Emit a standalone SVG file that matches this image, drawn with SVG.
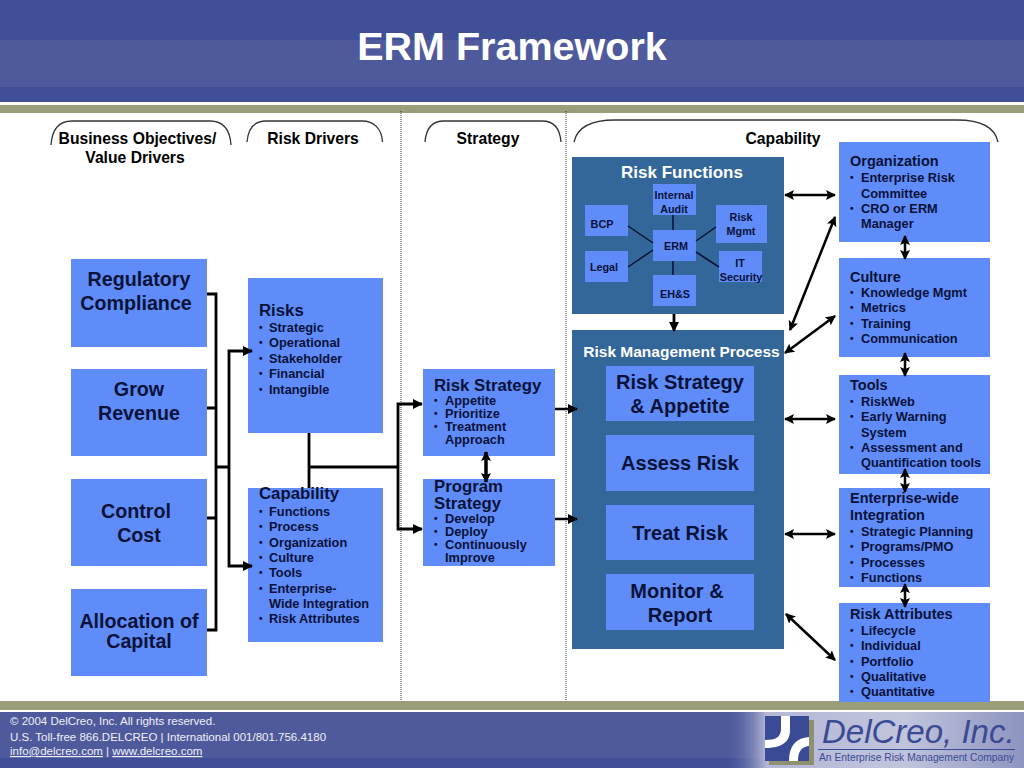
<svg xmlns="http://www.w3.org/2000/svg" width="1024" height="768" viewBox="0 0 1024 768">
<style>
text{font-family:"Liberation Sans",Arial,sans-serif;font-weight:bold;fill:#0a1238}
.box{fill:#5f8cf8}
.dark{fill:#336699}
.hd{font-size:15.700px;fill:#000;text-anchor:middle}
.big{font-size:19.700px;text-anchor:middle}
.mid{font-size:20px;text-anchor:middle}
.ttl{font-size:16.800px}
.rt{font-size:14.500px}
.li{font-size:12.800px}
.b{font-size:10px;transform:translateY(-1px)}
.sm{font-size:10.800px;text-anchor:middle}
.w{fill:#fff;font-size:17px;text-anchor:middle}
.ln{fill:none;stroke:#000;stroke-width:2.800}
.thin{fill:none;stroke:#0a1030;stroke-width:1.500}
.dbl{fill:none;stroke:#000;stroke-width:2.500;marker-start:url(#a);marker-end:url(#a)}
.arr{fill:none;stroke:#000;stroke-width:2.800;marker-end:url(#a2)}
.brk{fill:none;stroke:#333;stroke-width:1.300}
.dot{stroke:#333;stroke-width:1;stroke-dasharray:1 1}
.ft{font-size:11.500px;font-weight:normal;fill:#f0f0f8}
</style>
<defs>
<marker id="a" viewBox="0 0 10 10" refX="9" refY="5" markerUnits="userSpaceOnUse" markerWidth="10" markerHeight="10" orient="auto-start-reverse"><path d="M0 0L10 5L0 10L2 5Z" fill="#000"/></marker>
<marker id="a2" viewBox="0 0 10 10" refX="9" refY="5" markerUnits="userSpaceOnUse" markerWidth="10" markerHeight="10" orient="auto"><path d="M0 0L10 5L0 10Z" fill="#000"/></marker>
<linearGradient id="lg" x1="0" x2="1" y1="0" y2="0"><stop offset="0" stop-color="#4f5a9e" stop-opacity="0"/><stop offset="0.14" stop-color="#b4b8d6"/><stop offset="0.6" stop-color="#c0c4dc"/><stop offset="1" stop-color="#8d94c0"/></linearGradient>
</defs>
<rect width="1024" height="768" fill="#fff"/>
<g id="header">
<rect width="1024" height="102" fill="#404f96"/>
<rect y="40" width="1024" height="47" fill="#4f5a9c"/>
<rect y="105" width="1024" height="8" fill="#9b9e78"/>
<text x="512" y="60" font-size="39.500" text-anchor="middle" style="fill:#fff">ERM Framework</text>
</g>
<g id="footer">
<rect y="701" width="1024" height="9" fill="#9b9e78"/>
<rect y="712" width="1024" height="56" fill="#404f96"/>
<rect y="712" width="1024" height="46" fill="#4f5a9c"/>
<rect x="725" y="712" width="299" height="56" fill="url(#lg)"/>
<text class="ft" x="10" y="725">© 2004 DelCreo, Inc. All rights reserved.</text>
<text class="ft" x="10" y="741">U.S. Toll-free 866.DELCREO | International 001/801.756.4180</text>
<text class="ft" x="10" y="755"><tspan text-decoration="underline">info@delcreo.com</tspan> | <tspan text-decoration="underline">www.delcreo.com</tspan></text>
<rect x="769" y="720" width="45" height="45" fill="#8e9070"/>
<rect x="765" y="716" width="44" height="45" fill="#3b4a94"/>
<path d="M781 716h9v14c0 12-8 18-25 18v-8c11 0 16-3 16-11zM809 737v9c-8 1-11 6-11 15h-9c0-15 7-23 20-24z" fill="#fff"/>
<text x="822" y="743" font-size="33" style="font-weight:normal;font-style:italic;fill:#3b4a94">DelCreo, Inc.</text>
<rect x="818" y="749" width="197" height="1" fill="#3b4a94"/>
<text x="819" y="761" font-size="10.300" style="font-weight:normal;fill:#3b4a94">An Enterprise Risk Management Company</text>
</g>
<g id="column-headers">
<line class="dot" x1="401" y1="111" x2="401" y2="701"/>
<line class="dot" x1="566" y1="111" x2="566" y2="701"/>
<path class="brk" d="M51 145C52 130 58 121 72 121H210C224 121 230 130 231 145"/>
<path class="brk" d="M247 142C248 129 254 121 266 121H362C374 121 382 129 382.500 142"/>
<path class="brk" d="M425 142C426 129 432 121 444 121H542C554 121 560 129 561 142"/>
<path class="brk" d="M574 142C577 128 590 120 615 120H957C982 120 995 128 998 142"/>
<text class="hd" x="137.500" y="144">Business Objectives/</text>
<text class="hd" x="135" y="163">Value Drivers</text>
<text class="hd" x="313" y="144">Risk Drivers</text>
<text class="hd" x="488" y="144">Strategy</text>
<text class="hd" x="783" y="144">Capability</text>
</g>
<g id="obj-regulatory"><rect class="box" x="71" y="259" width="136" height="88"/><text class="big" x="139" y="286">Regulatory</text><text class="big" x="136" y="310">Compliance</text></g>
<g id="obj-revenue"><rect class="box" x="71" y="369" width="136" height="87"/><text class="big" x="139" y="396">Grow</text><text class="big" x="139" y="420">Revenue</text></g>
<g id="obj-cost"><rect class="box" x="71" y="479" width="136" height="87"/><text class="big" x="136" y="518">Control</text><text class="big" x="139" y="542">Cost</text></g>
<g id="obj-capital"><rect class="box" x="71" y="589" width="136" height="87"/><text class="big" x="139" y="628">Allocation of</text><text class="big" x="139" y="648">Capital</text></g>
<g id="risks"><rect class="box" x="248" y="278" width="135" height="155"/>
<text class="ttl" x="259" y="316">Risks</text>
<text class="li b" x="259" y="332">•</text><text class="li" x="269" y="332">Strategic</text>
<text class="li b" x="259" y="347">•</text><text class="li" x="269" y="347">Operational</text>
<text class="li b" x="259" y="363">•</text><text class="li" x="269" y="363">Stakeholder</text>
<text class="li b" x="259" y="378">•</text><text class="li" x="269" y="378">Financial</text>
<text class="li b" x="259" y="394">•</text><text class="li" x="269" y="394">Intangible</text></g>
<g id="capability"><rect class="box" x="248" y="488" width="135" height="154"/>
<text class="ttl" x="259" y="499">Capability</text>
<text class="li b" x="259" y="516">•</text><text class="li" x="269" y="516">Functions</text>
<text class="li b" x="259" y="531">•</text><text class="li" x="269" y="531">Process</text>
<text class="li b" x="259" y="547">•</text><text class="li" x="269" y="547">Organization</text>
<text class="li b" x="259" y="562">•</text><text class="li" x="269" y="562">Culture</text>
<text class="li b" x="259" y="577">•</text><text class="li" x="269" y="577">Tools</text>
<text class="li b" x="259" y="593">•</text><text class="li" x="269" y="593">Enterprise-</text>
<text class="li" x="269" y="608">Wide Integration</text>
<text class="li b" x="259" y="623">•</text><text class="li" x="269" y="623">Risk Attributes</text></g>
<g id="risk-strategy"><rect class="box" x="423" y="369" width="132" height="87"/>
<text class="ttl" x="434" y="391">Risk Strategy</text>
<text class="li b" x="434" y="405">•</text><text class="li" x="445" y="405">Appetite</text>
<text class="li b" x="434" y="418">•</text><text class="li" x="445" y="418">Prioritize</text>
<text class="li b" x="434" y="431">•</text><text class="li" x="445" y="431">Treatment</text>
<text class="li" x="445" y="444">Approach</text></g>
<g id="program-strategy"><rect class="box" x="423" y="479" width="132" height="87"/>
<text class="ttl" x="434" y="492">Program</text><text class="ttl" x="434" y="509">Strategy</text>
<text class="li b" x="434" y="523">•</text><text class="li" x="445" y="523">Develop</text>
<text class="li b" x="434" y="536">•</text><text class="li" x="445" y="536">Deploy</text>
<text class="li b" x="434" y="549">•</text><text class="li" x="445" y="549">Continuously</text>
<text class="li" x="445" y="562">Improve</text></g>
<g id="risk-functions"><rect class="dark" x="572" y="157" width="212" height="157"/>
<text class="w" x="682" y="178">Risk Functions</text></g>
<g id="fn-audit"><rect class="box" x="653" y="184" width="43" height="31"/><text class="sm" x="674" y="199">Internal</text><text class="sm" x="674" y="213">Audit</text></g>
<g id="fn-bcp"><rect class="box" x="585" y="205" width="43" height="31"/><text class="sm" x="602" y="228">BCP</text></g>
<g id="fn-mgmt"><rect class="box" x="716" y="205" width="51" height="38"/><text class="sm" x="741" y="221">Risk</text><text class="sm" x="741" y="235">Mgmt</text></g>
<g id="fn-erm"><rect class="box" x="653" y="230" width="43" height="31"/><text class="sm" x="676" y="250">ERM</text></g>
<g id="fn-legal"><rect class="box" x="585" y="251" width="43" height="31"/><text class="sm" x="604" y="271">Legal</text></g>
<g id="fn-it"><rect class="box" x="719" y="251" width="43" height="31"/><text class="sm" x="740" y="267">IT</text><text class="sm" x="741" y="281">Security</text></g>
<g id="fn-ehs"><rect class="box" x="653" y="275" width="43" height="31"/><text class="sm" x="675" y="298">EH&amp;S</text></g>
<g id="process"><rect class="dark" x="572" y="330" width="212" height="319"/>
<text class="w" x="681.500" y="357" style="font-size:15.500px">Risk Management Process</text></g>
<g id="proc-strategy"><rect class="box" x="606" y="366" width="148" height="55"/><text class="mid" x="680" y="389">Risk Strategy</text><text class="mid" x="680" y="413">&amp; Appetite</text></g>
<g id="proc-assess"><rect class="box" x="606" y="435" width="148" height="56"/><text class="mid" x="680" y="470">Assess Risk</text></g>
<g id="proc-treat"><rect class="box" x="606" y="505" width="148" height="55"/><text class="mid" x="680" y="540">Treat Risk</text></g>
<g id="proc-monitor"><rect class="box" x="606" y="574" width="148" height="56"/><text class="mid" x="677" y="598">Monitor &amp;</text><text class="mid" x="680" y="622">Report</text></g>
<g id="organization"><rect class="box" x="839" y="142" width="151" height="100"/>
<text class="rt" x="850" y="166">Organization</text>
<text class="li b" x="850" y="182">•</text><text class="li" x="861" y="182">Enterprise Risk</text>
<text class="li" x="861" y="198">Committee</text>
<text class="li b" x="850" y="213">•</text><text class="li" x="861" y="213">CRO or ERM</text>
<text class="li" x="861" y="228">Manager</text></g>
<g id="culture"><rect class="box" x="839" y="258" width="151" height="99"/>
<text class="rt" x="850" y="282">Culture</text>
<text class="li b" x="850" y="297">•</text><text class="li" x="861" y="297">Knowledge Mgmt</text>
<text class="li b" x="850" y="312">•</text><text class="li" x="861" y="312">Metrics</text>
<text class="li b" x="850" y="328">•</text><text class="li" x="861" y="328">Training</text>
<text class="li b" x="850" y="343">•</text><text class="li" x="861" y="343">Communication</text></g>
<g id="tools"><rect class="box" x="839" y="375" width="151" height="99"/>
<text class="rt" x="850" y="390">Tools</text>
<text class="li b" x="850" y="406">•</text><text class="li" x="861" y="406">RiskWeb</text>
<text class="li b" x="850" y="421">•</text><text class="li" x="861" y="421">Early Warning</text>
<text class="li" x="861" y="437">System</text>
<text class="li b" x="850" y="452">•</text><text class="li" x="861" y="452">Assessment and</text>
<text class="li" x="861" y="467">Quantification tools</text></g>
<g id="integration"><rect class="box" x="839" y="488" width="151" height="99"/>
<text class="rt" x="850" y="503">Enterprise-wide</text>
<text class="rt" x="850" y="520">Integration</text>
<text class="li b" x="850" y="536">•</text><text class="li" x="861" y="536">Strategic Planning</text>
<text class="li b" x="850" y="551">•</text><text class="li" x="861" y="551">Programs/PMO</text>
<text class="li b" x="850" y="567">•</text><text class="li" x="861" y="567">Processes</text>
<text class="li b" x="850" y="582">•</text><text class="li" x="861" y="582">Functions</text></g>
<g id="attributes"><rect class="box" x="839" y="603" width="151" height="99"/>
<text class="rt" x="850" y="619">Risk Attributes</text>
<text class="li b" x="850" y="635">•</text><text class="li" x="861" y="635">Lifecycle</text>
<text class="li b" x="850" y="650">•</text><text class="li" x="861" y="650">Individual</text>
<text class="li b" x="850" y="666">•</text><text class="li" x="861" y="666">Portfolio</text>
<text class="li b" x="850" y="681">•</text><text class="li" x="861" y="681">Qualitative</text>
<text class="li b" x="850" y="696">•</text><text class="li" x="861" y="696">Quantitative</text></g>
<g id="connectors">
<path class="ln" d="M207 294H216V630H207M207 408H216M207 518H216M216 467H229"/>
<path class="arr" d="M229 467V351H252"/>
<path class="arr" d="M229 467V566H252"/>
<path class="ln" d="M309 433V488M309 467H398"/>
<path class="arr" d="M398 467V404H422"/>
<path class="arr" d="M398 467V529H422"/>
<path class="arr" d="M555 409H577" style="stroke-width:2.500"/>
<path class="arr" d="M555 519H577" style="stroke-width:2.500"/>
<path class="arr" d="M674 314V331"/>
<path class="thin" d="M673 215V230M673 261V275M628 226L653 243M628 267L653 250M716 227L696 241M696 252L719 267"/>
<path class="dbl" style="stroke-width:3.500" d="M486 452V482"/>
<path class="dbl" d="M785 195H835"/>
<path class="dbl" d="M790 330L835 217"/>
<path class="dbl" d="M785 353L835 316"/>
<path class="dbl" d="M785 419H835"/>
<path class="dbl" d="M785 534H835"/>
<path class="dbl" d="M786 614L835 660"/>
<path class="dbl" d="M905 236V259"/>
<path class="dbl" d="M905 353V376"/>
<path class="dbl" d="M905 469V492"/>
<path class="dbl" d="M905 584V607"/>
</g>
</svg>
